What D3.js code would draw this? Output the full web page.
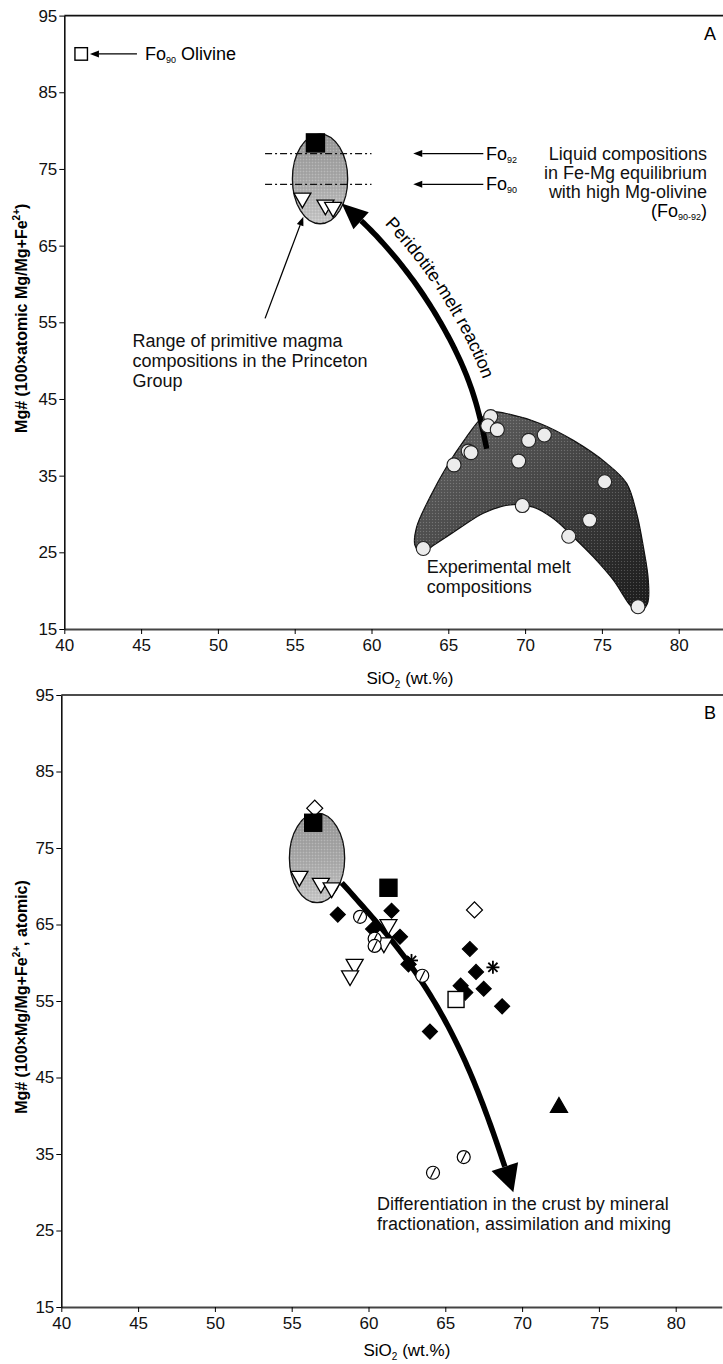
<!DOCTYPE html>
<html>
<head>
<meta charset="utf-8">
<script src="https://cdn.jsdelivr.net/npm/d3@7"></script>
<style>
  body { margin: 0; background: #fff; }
  svg { display: block; font-family: "Liberation Sans", Arial, sans-serif; }
</style>
</head>
<body>
<svg id="chart" width="723" height="1364"></svg>
<script>
// ---- tick labels
const xTicks = [40, 45, 50, 55, 60, 65, 70, 75, 80];
const yTicks = [15, 25, 35, 45, 55, 65, 75, 85, 95];

// ---- panel A data  [SiO2, Mg#]
const olivinePoint = [[41.1, 90.0]];
const primitiveField = [56.65, 73.7, 1.8, 5.85];      // cx, cy, rx, ry (data units)
const primitiveSquaresA = [[56.35, 78.4]];
const primitiveTrianglesA = [[55.5, 71.2], [57.0, 70.3], [57.5, 70.0]];
const foLevels = [["92", 77.0], ["90", 73.0]];
const meltPoints = [
  [67.76, 42.7], [67.57, 41.5], [68.19, 41.0], [66.3, 38.2], [66.48, 38.0],
  [65.37, 36.4], [70.23, 39.6], [71.25, 40.3], [69.58, 36.9], [75.18, 34.2],
  [69.82, 31.1], [74.2, 29.2], [72.84, 27.1], [63.37, 25.5], [77.35, 17.9]
];
const meltOutline = [
  [67.71, 43.3], [69.02, 43.0], [70.97, 41.8], [73.14, 39.6], [75.31, 36.6],
  [76.61, 34.0], [77.26, 30.1], [77.7, 25.7], [78.02, 21.4], [77.96, 18.3],
  [77.37, 17.1], [76.83, 18.1], [75.74, 21.4], [74.44, 24.4], [73.14, 27.0],
  [71.84, 29.4], [70.53, 30.9], [69.02, 31.2], [67.28, 30.1], [65.55, 27.9],
  [64.02, 25.9], [63.27, 24.9], [62.83, 25.9], [62.94, 28.3], [63.81, 32.2],
  [64.9, 36.2], [66.2, 40.1], [67.06, 42.3]
];
const reactionArrow = [[67.5, 38.5], [66.2, 48.0], [63.4, 58.5], [60.3, 66.3], [58.06, 70.5]];

// ---- panel B data
const openDiamonds = [[56.5, 80.2], [66.9, 66.9]];
const filledSquares = [[56.4, 78.3], [61.3, 69.8]];
const openTriangles = [
  [55.5, 71.3], [56.9, 70.4], [57.6, 69.8], [61.3, 65.0],
  [61.0, 62.6], [59.1, 59.8], [58.8, 58.3]
];
const filledDiamonds = [
  [58.0, 66.3], [61.5, 66.8], [60.3, 64.4], [62.05, 63.4], [62.6, 59.8],
  [66.6, 61.8], [67.0, 58.8], [66.0, 57.0], [66.3, 56.1], [67.5, 56.6],
  [68.7, 54.3], [64.0, 51.0]
];
const slashedCircles = [[59.45, 66.0], [60.4, 63.15], [60.4, 62.2], [63.5, 58.3], [66.2, 34.6], [64.2, 32.55]];
const openSquares = [[65.7, 55.2]];
const asterisks = [[68.1, 59.4], [62.8, 60.3]];
const filledTriangles = [[72.4, 41.1]];
const crustArrow = [[58.26, 70.45], [62.9, 59.2], [66.6, 45.7], [69.43, 30.0]];

const svg = d3.select("#chart");

const panels = [
  { letter: "A", left: 64.3, top: 15.6, bottom: 629, xlabDy: 55, ylab: "Mg# (100×atomic Mg/Mg+Fe", ytail: ")" },
  { letter: "B", left: 61.3, top: 695, bottom: 1307, xlabDy: 49, ylab: "Mg# (100×Mg/Mg+Fe", ytail: ", atomic)" }
];

function arrowHead(g, tip, from, len, half) {
  const dx = tip[0] - from[0], dy = tip[1] - from[1];
  const L = Math.hypot(dx, dy), ux = dx / L, uy = dy / L;
  const b = [tip[0] - ux * len, tip[1] - uy * len];
  const pts = [tip, [b[0] - uy * half, b[1] + ux * half], [b[0] + uy * half, b[1] - ux * half]];
  g.append("path").attr("d", "M" + pts.join("L") + "Z").attr("fill", "#000");
  return b;
}

// smooth curve sampled to a polyline, so the head follows the end tangent
function sampleCurve(pts) {
  const p = document.createElementNS("http://www.w3.org/2000/svg", "path");
  p.setAttribute("d", d3.line().curve(d3.curveNatural)(pts));
  svg.node().appendChild(p);
  const L = p.getTotalLength(), out = [];
  for (let i = 0; i <= 80; i++) { const q = p.getPointAtLength(L * i / 80); out.push([q.x, q.y]); }
  p.remove();
  return out;
}

function curvedArrow(g, pts, width, len, half) {
  const line = sampleCurve(pts);
  const tip = line[line.length - 1];
  const far = line.filter(p => Math.hypot(p[0] - tip[0], p[1] - tip[1]) > len);
  const base = arrowHead(g, tip, far[far.length - 1], len, half);
  g.append("path")
    .attr("d", d3.line()(far.concat([base])))
    .attr("fill", "none").attr("stroke", "#000").attr("stroke-width", width);
  return line;
}

function straightArrow(g, from, to) {
  const base = arrowHead(g, to, from, 9, 3.5);
  g.append("line").attr("x1", from[0]).attr("y1", from[1]).attr("x2", base[0]).attr("y2", base[1])
    .attr("stroke", "#000").attr("stroke-width", 1.3);
}

function multiText(g, x, y, lines, anchor, step) {
  const t = g.append("text").attr("x", x).attr("y", y).attr("font-size", 18)
    .attr("text-anchor", anchor || "start").attr("fill", "#111");
  lines.forEach((s, i) => t.append("tspan").attr("x", x).attr("dy", i ? step : 0).text(s));
  return t;
}

// shared defs
const defs = svg.append("defs");
const eg = defs.append("linearGradient").attr("id", "ellGrad").attr("x1", 0).attr("y1", 0).attr("x2", 0).attr("y2", 1);
eg.append("stop").attr("offset", "0%").attr("stop-color", "#9a9a9a");
eg.append("stop").attr("offset", "55%").attr("stop-color", "#acacac");
eg.append("stop").attr("offset", "100%").attr("stop-color", "#cacaca");
const bg = defs.append("linearGradient").attr("id", "blobGrad").attr("x1", 0).attr("y1", 0).attr("x2", 1).attr("y2", 1);
bg.append("stop").attr("offset", "0%").attr("stop-color", "#6a6a6a");
bg.append("stop").attr("offset", "50%").attr("stop-color", "#444");
bg.append("stop").attr("offset", "100%").attr("stop-color", "#1a1a1a");
const pat = defs.append("pattern").attr("id", "stipple").attr("width", 3).attr("height", 3).attr("patternUnits", "userSpaceOnUse");
pat.append("rect").attr("width", 1).attr("height", 1).attr("fill", "rgba(255,255,255,0.2)");
pat.append("rect").attr("x", 1.5).attr("y", 1.5).attr("width", 1).attr("height", 1).attr("fill", "rgba(0,0,0,0.15)");

panels.forEach((p, pi) => {
  const x = d3.scaleLinear().domain([40, 83]).range([p.left, p.left + 43 * 15.36]);
  const y = d3.scaleLinear().domain([15, 95]).range([p.bottom, p.top]);
  const g = svg.append("g");

  // frame: top line
  g.append("line").attr("x1", p.left).attr("x2", 723).attr("y1", p.top).attr("y2", p.top)
    .attr("stroke", "#111").attr("stroke-width", 1.6);

  const xa = g.append("g").attr("transform", `translate(0,${p.bottom})`)
    .call(d3.axisBottom(x).tickValues(xTicks).tickSize(5).tickSizeOuter(0).tickPadding(5));
  xa.select(".domain").attr("stroke", "#444").attr("stroke-width", 2);
  xa.selectAll("text").attr("font-size", 17).attr("font-family", "Liberation Sans, Arial").attr("fill", "#111");
  const ya = g.append("g").attr("transform", `translate(${p.left},0)`)
    .call(d3.axisLeft(y).tickValues(yTicks).tickSize(5).tickSizeOuter(0).tickPadding(2));
  ya.select(".domain").attr("stroke", "#111").attr("stroke-width", 1.6);
  ya.selectAll("text").attr("font-size", 17).attr("font-family", "Liberation Sans, Arial").attr("fill", "#111");

  // axis titles
  const xt = g.append("text").attr("x", x(62.5)).attr("y", p.bottom + p.xlabDy).attr("text-anchor", "middle")
    .attr("font-size", 17).text("SiO");
  xt.append("tspan").attr("font-size", 10).attr("dy", 4).text("2");
  xt.append("tspan").attr("dy", -4).text(" (wt.%)");
  const yt = g.append("text").attr("transform", `translate(27,${(p.top + p.bottom) / 2 - 4}) rotate(-90)`)
    .attr("text-anchor", "middle").attr("font-size", 16).attr("font-weight", "bold").text(p.ylab);
  yt.append("tspan").attr("font-size", 10).attr("dy", -7).text("2+");
  yt.append("tspan").attr("dy", 7).text(p.ytail);

  g.append("text").attr("x", 716).attr("y", p.top + 24).attr("text-anchor", "end")
    .attr("font-size", 18).text(p.letter);

  // primitive magma field
  const [cx, cy, rx, ry] = primitiveField;
  g.append("ellipse").attr("cx", x(cx)).attr("cy", y(cy))
    .attr("rx", x(cx + rx) - x(cx)).attr("ry", y(cy) - y(cy + ry))
    .attr("fill", "url(#ellGrad)").attr("stroke", "#111").attr("stroke-width", 1.3);
  g.append("ellipse").attr("cx", x(cx)).attr("cy", y(cy))
    .attr("rx", x(cx + rx) - x(cx)).attr("ry", y(cy) - y(cy + ry)).attr("fill", "url(#stipple)");

  const sq = (pts, s, fill) => g.selectAll(null).data(pts).join("rect")
    .attr("x", d => x(d[0]) - s / 2).attr("y", d => y(d[1]) - s / 2).attr("width", s).attr("height", s)
    .attr("fill", fill).attr("stroke", "#000").attr("stroke-width", 1.4);
  const tri = (pts, s, fill, rot) => g.selectAll(null).data(pts).join("path")
    .attr("d", d3.symbol(d3.symbolTriangle, s * s * Math.sqrt(3) / 4))
    .attr("transform", d => `translate(${x(d[0])},${y(d[1])}) rotate(${rot})`)
    .attr("fill", fill).attr("stroke", "#000").attr("stroke-width", 1.3);
  const dia = (pts, h, fill) => g.selectAll(null).data(pts).join("path")
    .attr("d", d3.symbol(d3.symbolSquare, 2 * h * h))
    .attr("transform", d => `translate(${x(d[0])},${y(d[1])}) rotate(45)`)
    .attr("fill", fill).attr("stroke", "#000").attr("stroke-width", 1.2);

  if (pi === 0) {
    // Fo92 / Fo90 levels
    foLevels.forEach(([lab, mg]) => {
      g.append("line").attr("x1", x(53.07)).attr("x2", x(60.0)).attr("y1", y(mg)).attr("y2", y(mg))
        .attr("stroke", "#111").attr("stroke-width", 1.3).attr("stroke-dasharray", "7,3,2,3");
      straightArrow(g, [x(67.28), y(mg)], [x(62.72), y(mg)]);
      const t = g.append("text").attr("x", x(67.45)).attr("y", y(mg) + 6).attr("font-size", 18).text("Fo");
      t.append("tspan").attr("font-size", 9).attr("dy", 3).text(lab);
    });
    sq(primitiveSquaresA, 18, "#000");
    tri(primitiveTrianglesA, 17, "#fff", 180);

    // olivine
    sq(olivinePoint, 12.5, "#fff");
    straightArrow(g, [x(44.73), y(90)], [x(41.67), y(90)]);
    const ot = g.append("text").attr("x", x(45.25)).attr("y", y(89.2)).attr("font-size", 18).text("Fo");
    ot.append("tspan").attr("font-size", 9).attr("dy", 3).text("90");
    ot.append("tspan").attr("dy", -3).text(" Olivine");

    multiText(g, x(81.84), y(76.16), ["Liquid compositions", "in Fe-Mg equilibrium", "with high Mg-olivine"], "end", 19);
    const ft = g.append("text").attr("x", x(81.84)).attr("y", y(76.16) + 57).attr("text-anchor", "end")
      .attr("font-size", 18).text("(Fo");
    ft.append("tspan").attr("font-size", 9).attr("dy", 3).text("90-92");
    ft.append("tspan").attr("dy", -3).text(")");

    // primitive magma label
    multiText(g, x(44.44), y(51.77), ["Range of primitive magma", "compositions in the Princeton", "Group"], "start", 20);
    straightArrow(g, [x(53.07), y(55.51)], [x(55.56), y(68.77)]);

    // experimental melts
    const blob = d3.line().x(d => x(d[0])).y(d => y(d[1])).curve(d3.curveCatmullRomClosed)(meltOutline);
    g.append("path").attr("d", blob).attr("fill", "url(#blobGrad)").attr("stroke", "#111").attr("stroke-width", 1.2);
    g.append("path").attr("d", blob).attr("fill", "url(#stipple)");

    const rline = curvedArrow(g, reactionArrow.map(d => [x(d[0]), y(d[1])]), 5.5, 26, 11.5);

    g.selectAll(null).data(meltPoints).join("circle")
      .attr("cx", d => x(d[0])).attr("cy", d => y(d[1])).attr("r", 7)
      .attr("fill", "#ececec").attr("stroke", "#222").attr("stroke-width", 1.1);

    multiText(g, x(63.59), y(22.25), ["Experimental melt", "compositions"], "start", 20);

    // label along the reaction arrow (offset to its upper-right side)
    const rev = rline.slice().reverse();
    const off = rev.map((pt, i) => {
      const a = rev[Math.max(0, i - 1)], b = rev[Math.min(rev.length - 1, i + 1)];
      const dx = b[0] - a[0], dy = b[1] - a[1], L = Math.hypot(dx, dy);
      return [pt[0] + dy / L * 14, pt[1] - dx / L * 14];
    });
    defs.append("path").attr("id", "reactPath").attr("d", d3.line()(off));
    g.append("text").attr("font-size", 18).append("textPath")
      .attr("href", "#reactPath").attr("startOffset", 46).text("Peridotite-melt reaction");
  } else {
    curvedArrow(g, crustArrow.map(d => [x(d[0]), y(d[1])]), 5.5, 27, 14);

    dia(openDiamonds, 8, "#fff");
    sq(filledSquares, 17, "#000");
    tri(openTriangles, 17, "#fff", 180);
    dia(filledDiamonds, 7.5, "#000");
    sq(openSquares, 16, "#fff");
    tri(filledTriangles, 17, "#000", 0);

    const sc = g.selectAll(null).data(slashedCircles).join("g")
      .attr("transform", d => `translate(${x(d[0])},${y(d[1])})`);
    sc.append("circle").attr("r", 6.5).attr("fill", "#fff").attr("stroke", "#000").attr("stroke-width", 1.2);
    sc.append("line").attr("x1", -2.5).attr("y1", 5).attr("x2", 2.5).attr("y2", -5)
      .attr("stroke", "#000").attr("stroke-width", 1.2);

    const as = g.selectAll(null).data(asterisks).join("g")
      .attr("transform", d => `translate(${x(d[0])},${y(d[1])})`);
    [0, 45, 90, 135].forEach(a => as.append("line").attr("x1", -6.5).attr("x2", 6.5)
      .attr("transform", `rotate(${a})`).attr("stroke", "#000").attr("stroke-width", 1.8));

    multiText(g, x(60.55), y(27.72),
      ["Differentiation in the crust by mineral", "fractionation, assimilation and mixing"], "start", 20);
  }
});
</script>
</body>
</html>
